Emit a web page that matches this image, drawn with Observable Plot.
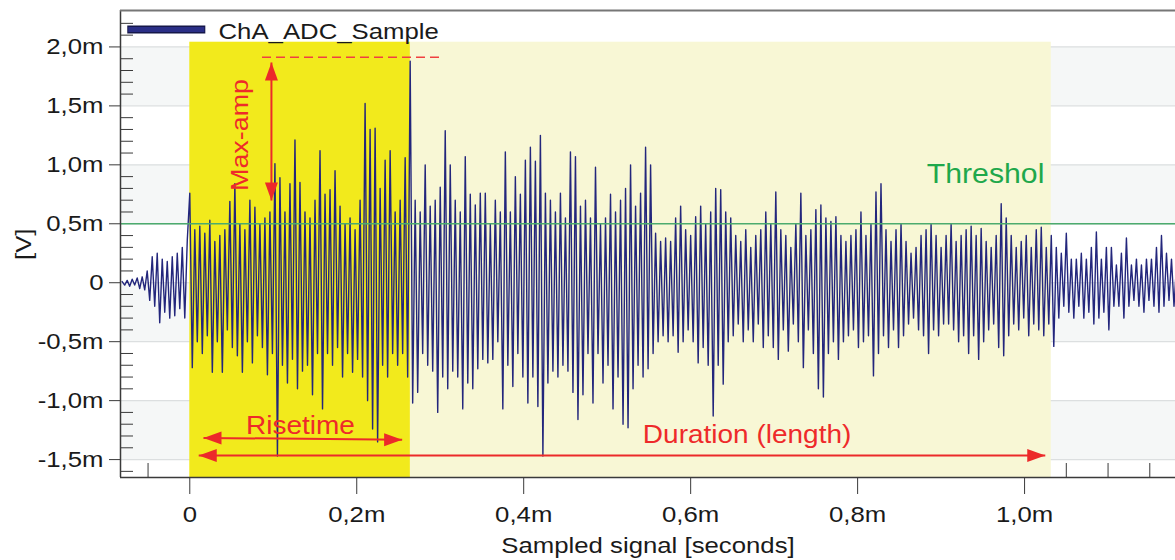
<!DOCTYPE html>
<html>
<head>
<meta charset="utf-8">
<script src="https://cdn.jsdelivr.net/npm/d3@7"></script>
<script src="https://cdn.jsdelivr.net/npm/@observablehq/plot@0.6"></script>
<style>
html, body { margin: 0; padding: 0; background: #ffffff; }
#chart svg { display: block; }
</style>
</head>
<body>
<div id="chart"></div>
<script>
// ---- data (time in m[s], amplitude in m[V]) ----
const sampleStart = -0.081;
const sampleInterval = 0.003;
const signalValues = [
  0.01,-0.02,0.02,-0.03,0.03,-0.02,0.04,-0.05,0.05,-0.06,0.1,-0.15,0.22,-0.2,0.25,-0.34,0.2,-0.25,0.18,-0.3,
  0.22,-0.28,0.25,-0.22,0.3,-0.3,0.36,0.76,-0.72,0.45,-0.5,0.48,-0.6,0.42,-0.45,0.53,-0.76,0.35,-0.5,0.4,
  -0.76,0.45,-0.4,0.69,-0.55,0.84,-0.62,0.5,-0.76,0.45,-0.5,0.7,-0.68,0.64,-0.45,0.5,-0.55,0.55,-0.78,0.6,
  -0.6,1.01,-1.47,0.89,-0.7,0.6,-0.85,0.84,-0.65,1.21,-0.9,0.85,-0.75,0.6,-0.7,0.55,-0.95,0.7,-0.6,1.12,
  -1.07,0.75,-0.6,0.79,-0.7,0.95,-0.55,0.65,-0.8,0.5,-0.6,0.55,-0.76,0.45,-0.65,0.7,-0.8,1.52,-1.0,1.3,
  -1.24,1.31,-1.35,0.8,-0.7,1.04,-0.8,1.12,-0.6,0.6,-0.7,0.7,-0.6,1.06,-0.8,1.88,-1.02,0.7,-0.93,0.6,
  -0.6,1.0,-0.7,0.65,-0.75,0.7,-1.1,0.81,-0.8,1.29,-0.9,1.0,-0.75,0.7,-0.8,0.6,-1.07,1.07,-0.85,0.75,
  -0.9,0.66,-0.73,0.76,-0.65,0.76,-0.68,0.5,-0.65,0.7,-0.5,0.6,-1.07,1.11,-0.7,0.6,-0.88,0.9,-0.6,0.75,
  -0.8,1.04,-1.02,1.15,-0.8,1.03,-1.05,1.25,-1.47,0.76,-0.85,0.7,-0.75,0.6,-0.8,0.76,-0.7,0.55,-0.75,1.11,
  -0.93,1.07,-1.16,0.65,-0.95,0.7,-0.6,0.55,-1.02,0.98,-0.6,0.5,-0.85,0.55,-0.7,0.75,-1.07,0.6,-0.8,0.7,
  -1.2,0.8,-1.23,1.0,-0.9,0.65,-0.7,0.76,-0.8,1.15,-0.73,1.0,-0.6,0.42,-0.5,0.35,-0.45,0.38,-0.5,0.35,
  -0.45,0.55,-0.59,0.65,-0.5,0.45,-0.4,0.4,-0.5,0.56,-0.68,0.65,-0.55,0.5,-0.7,0.6,-1.13,0.8,-0.7,0.79,
  -0.86,0.6,-0.5,0.55,-0.45,0.4,-0.35,0.35,-0.5,0.45,-0.4,0.3,-0.5,0.4,-0.35,0.45,-0.55,0.6,-0.45,0.5,
  -0.55,0.77,-0.65,0.45,-0.4,0.4,-0.58,0.3,-0.35,0.5,-0.5,0.76,-0.72,0.4,-0.4,0.45,-0.6,0.62,-0.9,0.66,
  -0.97,0.55,-0.6,0.52,-0.5,0.56,-0.65,0.4,-0.5,0.35,-0.45,0.4,-0.4,0.45,-0.55,0.6,-0.5,0.4,-0.45,0.5,
  -0.79,0.77,-0.6,0.84,-0.45,0.45,-0.55,0.35,-0.4,0.45,-0.55,0.5,-0.45,0.35,-0.35,0.25,-0.3,0.3,-0.4,0.4,
  -0.45,0.45,-0.6,0.5,-0.4,0.4,-0.45,0.3,-0.35,0.4,-0.35,0.5,-0.4,0.35,-0.5,0.4,-0.45,0.45,-0.6,0.48,
  -0.45,0.4,-0.65,0.46,-0.5,0.35,-0.4,0.3,-0.35,0.4,-0.55,0.67,-0.62,0.55,-0.45,0.4,-0.35,0.3,-0.4,0.35,
  -0.3,0.4,-0.45,0.3,-0.35,0.45,-0.4,0.47,-0.45,0.3,-0.35,0.4,-0.54,0.3,-0.3,0.25,-0.2,0.42,-0.25,0.2,
  -0.3,0.2,-0.2,0.25,-0.3,0.2,-0.25,0.3,-0.35,0.43,-0.3,0.2,-0.25,0.3,-0.4,0.3,-0.2,0.15,-0.2,0.25,
  -0.3,0.38,-0.2,0.15,-0.15,0.2,-0.2,0.15,-0.25,0.2,-0.15,0.2,-0.2,0.3,-0.25,0.4,-0.2,0.25,-0.15,0.2,-0.2,0.15
];

const xDomain = [-0.083, 1.1808];
const yDomain = [-1.652, 2.309];
const xMajorTicks = [0, 0.2, 0.4, 0.6, 0.8, 1.0];
const xMinorTicks = [-0.05, 0.05, 0.1, 0.15, 0.25, 0.3, 0.35, 0.45, 0.5, 0.55, 0.65, 0.7, 0.75, 0.85, 0.9, 0.95, 1.05, 1.1, 1.15];
const yMajorTicks = [-1.5, -1.0, -0.5, 0, 0.5, 1.0, 1.5, 2.0];
const yMinorTicks = [-1.6, -1.4, -1.3, -1.2, -1.1, -0.9, -0.8, -0.7, -0.6, -0.4, -0.3, -0.2, -0.1,
                     0.1, 0.2, 0.3, 0.4, 0.6, 0.7, 0.8, 0.9, 1.1, 1.2, 1.3, 1.4, 1.6, 1.7, 1.8, 1.9, 2.1, 2.2];
const bandLows = [1.5, 0.5, -0.5, -1.5];          // shaded bands [v, v + 0.5]
const thresholdValue = 0.5;

const regionStarts = [0, 0.2643];
const regionEnds = [0.2643, 1.032];
const regionTop = 2.04;
const regionColors = ["#f2ea1c", "#f8f7d5"];

const maxAmpLevel = 1.913;
const maxAmpDashFrom = [0.0871, 0.3003];
const maxAmpArrow = {x: 0.0978, yTop: 1.868, yBottom: 0.697};
const risetimeArrow = {x1: 0.0164, y1: -1.316, x2: 0.2544, y2: -1.332};
const durationArrow = {x1: 0.0107, y1: -1.466, x2: 1.0248, y2: -1.466};

const labels = [
  {text: "Risetime", x: 0.1326, y: -1.279, anchor: "middle", size: 25, color: "#ee2a2a", rotate: 0},
  {text: "Duration (length)", x: 0.6676, y: -1.361, anchor: "middle", size: 25, color: "#ee2a2a", rotate: 0},
  {text: "Threshol", x: 0.9533, y: 0.844, anchor: "start", size: 27, color: "#1fa84b", rotate: 0},
  {text: "Max-amp", x: 0.0693, y: 1.253, anchor: "middle", size: 24, color: "#ee2a2a", rotate: -90}
];
const legendLabel = "ChA_ADC_Sample";
const legendSwatch = {x1: -0.0743, x2: 0.0192, y: 2.148};
const legendText = {x: 0.0344, y: 2.069};

// ---- build ----
const signal = signalValues.map((v, i) => ({t: sampleStart + i * sampleInterval, v}));
const fmt = (d) => d === 0 ? "0" : d.toFixed(1).replace(".", ",") + "m";

const navy = "#23267c";
const red = "#ec2a2a";

const arrowHead = {
  draw(context) {
    const L = 18, W = 6.5;
    context.moveTo(0, 0);
    context.lineTo(W, L);
    context.lineTo(-W, L);
    context.closePath();
  }
};
const heads = [
  {x: maxAmpArrow.x, y: maxAmpArrow.yTop, rot: 0},
  {x: maxAmpArrow.x, y: maxAmpArrow.yBottom, rot: 180},
  {x: risetimeArrow.x1, y: risetimeArrow.y1, rot: 270},
  {x: risetimeArrow.x2, y: risetimeArrow.y2, rot: 90},
  {x: durationArrow.x1, y: durationArrow.y1, rot: 270},
  {x: durationArrow.x2, y: durationArrow.y2, rot: 90}
];
const shafts = [
  {x1: maxAmpArrow.x, y1: maxAmpArrow.yTop, x2: maxAmpArrow.x, y2: maxAmpArrow.yBottom},
  risetimeArrow,
  durationArrow
];
const regions = regionStarts.map((s, i) => ({x1: s, x2: regionEnds[i], fill: regionColors[i]}));

const chart = Plot.plot({
  width: 1175,
  height: 560,
  marginLeft: 120,
  marginRight: 0,
  marginTop: 10,
  marginBottom: 83,
  x: {domain: xDomain},
  y: {domain: yDomain},
  style: {fontFamily: "'Liberation Sans', Arial, sans-serif", fontSize: "23px", color: "#1a1a1a", background: "#ffffff"},
  marks: [
    Plot.rectY(bandLows, {x1: xDomain[0], x2: xDomain[1], y1: (d) => d, y2: (d) => d + 0.5, fill: "#f5f7f7"}),
    Plot.gridY(yMajorTicks, {stroke: "#dcdfe0", strokeOpacity: 1, strokeWidth: 1.2}),
    Plot.axisX(xMinorTicks, {tickSize: 14, dy: -14, fill: "none", stroke: "#3a3a3a", label: null}),
    Plot.rectY(regions, {x1: "x1", x2: "x2", y1: yDomain[0], y2: regionTop, fill: "fill"}),
    Plot.line(signal, {x: "t", y: "v", stroke: navy, strokeWidth: 1.4, clip: true}),
    Plot.ruleY([thresholdValue], {stroke: "#4cab6e", strokeWidth: 1.6}),
    Plot.ruleY([maxAmpLevel], {x1: maxAmpDashFrom[0], x2: maxAmpDashFrom[1], stroke: "#f04040", strokeWidth: 1.6, strokeDasharray: "9,5"}),
    Plot.link(shafts, {x1: "x1", y1: "y1", x2: "x2", y2: "y2", stroke: red, strokeWidth: 2}),
    Plot.dot(heads, {x: "x", y: "y", rotate: "rot", symbol: arrowHead, r: 5, fill: red, stroke: "none"}),
    Plot.text(labels, {x: "x", y: "y", text: "text", textAnchor: "anchor", fontSize: "size", fill: "color", rotate: "rotate", lineAnchor: "bottom"}),
    Plot.axisY(yMajorTicks, {tickSize: 11, tickPadding: 6, tickFormat: fmt, label: null, stroke: "#3a3a3a", fontSize: 23}),
    Plot.axisY(yMinorTicks, {tickSize: 13, dx: 13, fill: "none", stroke: "#3a3a3a", label: null}),
    Plot.axisX(xMajorTicks, {tickSize: 17, tickPadding: 11, tickFormat: fmt, label: null, stroke: "#3a3a3a", fontSize: 23}),
    Plot.ruleX([xDomain[0]], {stroke: "#3a3a3a", strokeWidth: 1.5}),
    Plot.ruleY([yDomain[0]], {stroke: "#3a3a3a", strokeWidth: 1.5}),
    Plot.ruleY([yDomain[1]], {stroke: "#767676", strokeWidth: 2.2}),
    Plot.ruleY([legendSwatch.y], {x1: legendSwatch.x1, x2: legendSwatch.x2, stroke: "#15174a", strokeWidth: 8}),
    Plot.ruleY([legendSwatch.y], {x1: legendSwatch.x1, x2: legendSwatch.x2, stroke: "#2a2e86", strokeWidth: 5, insetLeft: 1, insetRight: 1}),
    Plot.text([legendLabel], {x: legendText.x, y: legendText.y, text: (d) => d, textAnchor: "start", lineAnchor: "bottom", fontSize: 23, fill: "#1a1a1a"}),
    Plot.text(["[V]"], {frameAnchor: "left", rotate: -90, dx: -90, dy: 16, lineAnchor: "bottom", fontSize: 23, fill: "#1a1a1a"}),
    Plot.text(["Sampled signal [seconds]"], {frameAnchor: "bottom", dy: 75, lineAnchor: "bottom", fontSize: 23, fill: "#1a1a1a"})
  ]
});

// the reference's lettering is slightly wider than Arial: widen every label around its anchor
chart.querySelectorAll("text").forEach((t) => {
  const tr = t.getAttribute("transform");
  if (tr) t.setAttribute("transform", tr + " scale(1.12,1)");
});

document.getElementById("chart").appendChild(chart);
</script>
</body>
</html>
